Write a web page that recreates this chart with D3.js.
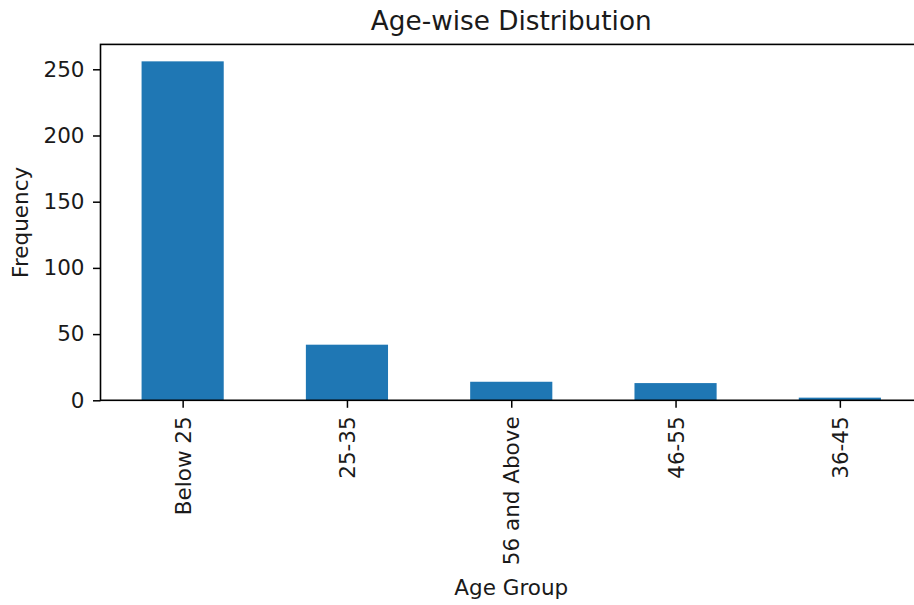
<!DOCTYPE html>
<html><head><meta charset="utf-8">
<script src="https://cdn.jsdelivr.net/npm/d3@7"></script>
<style>body{margin:0;background:#fff;overflow:hidden;} text{font-family:"DejaVu Sans",sans-serif;}</style>
</head><body><svg id="c" width="914" height="605"></svg>
<script>
const categories = ["Below 25", "25-35", "56 and Above", "46-55", "36-45"];
const values = [256, 42, 14, 13, 2];
const yTicks = [0, 50, 100, 150, 200, 250];

const svg = d3.select("#c");
const m = {left: 100.5, right: 922, top: 44.4, bottom: 400.3};
const x = d3.scaleLinear().domain([-0.5, categories.length - 0.5]).range([m.left, m.right]);
const y = d3.scaleLinear().domain([0, d3.max(values) * 1.05]).range([m.bottom, m.top]);
const tickFont = "21.5px";
const ink = "#1a1a1a";

svg.append("g").selectAll("rect").data(values).join("rect")
  .attr("x", (d, i) => x(i - 0.25)).attr("width", x(0.25) - x(-0.25))
  .attr("y", d => y(d)).attr("height", d => y(0) - y(d))
  .attr("fill", "#1f77b4");

const yAxis = d3.axisLeft(y).tickValues(yTicks).tickSize(7.5).tickPadding(8.5);
const gy = svg.append("g").attr("transform", `translate(${m.left},0)`).call(yAxis);
gy.select(".domain").remove();
gy.selectAll("text").style("font-size", tickFont).attr("fill", ink);
gy.selectAll("line").attr("stroke", "#000").attr("stroke-width", 1.5);

const xAxis = d3.axisBottom(x).tickValues(d3.range(categories.length)).tickFormat(i => categories[i]).tickSize(7.5).tickPadding(8);
const gx = svg.append("g").attr("transform", `translate(0,${m.bottom})`).call(xAxis);
gx.select(".domain").remove();
gx.selectAll("line").attr("stroke", "#000").attr("stroke-width", 1.5);
gx.selectAll("text").style("font-size", tickFont).attr("fill", ink)
  .attr("transform", "rotate(-90)").attr("text-anchor", "end")
  .attr("x", -16).attr("y", 0).attr("dy", "0.35em");

svg.append("rect").attr("x", m.left).attr("y", m.top)
  .attr("width", m.right - m.left).attr("height", m.bottom - m.top)
  .attr("fill", "none").attr("stroke", "#000").attr("stroke-width", 1.6);

svg.append("text").attr("x", (m.left + m.right) / 2).attr("y", 29.5)
  .attr("text-anchor", "middle").style("font-size", "26.3px").attr("fill", ink).text("Age-wise Distribution");
svg.append("text").attr("x", (m.left + m.right) / 2).attr("y", 595)
  .attr("text-anchor", "middle").style("font-size", tickFont).attr("fill", ink).text("Age Group");
svg.append("text").attr("transform", `translate(28,${(m.top + m.bottom) / 2}) rotate(-90)`)
  .attr("text-anchor", "middle").style("font-size", tickFont).attr("fill", ink).text("Frequency");
</script></body></html>
